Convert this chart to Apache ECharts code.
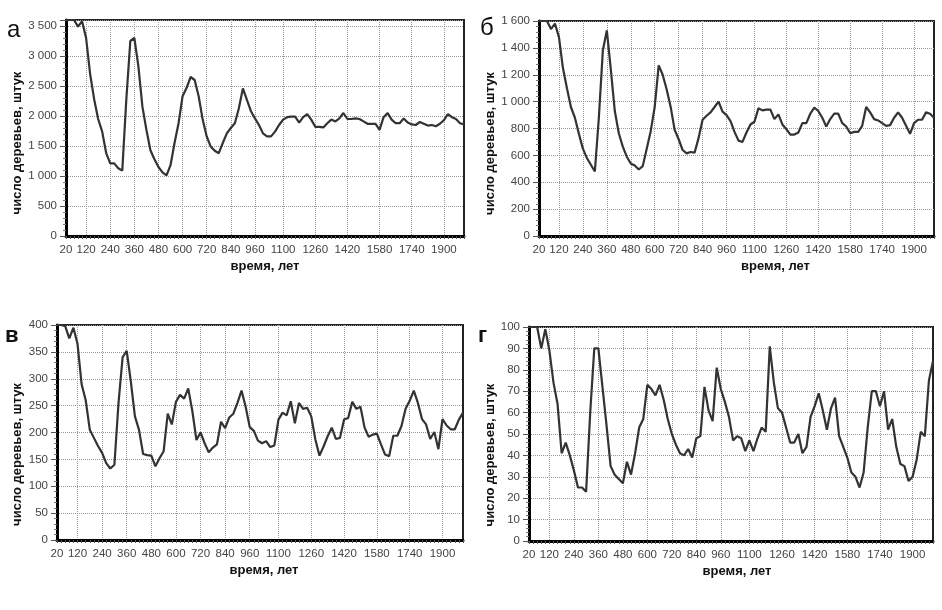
<!DOCTYPE html>
<html><head><meta charset="utf-8">
<script src="https://cdn.jsdelivr.net/npm/echarts@6/dist/echarts.min.js"></script>
<style>html,body{margin:0;padding:0;background:#fff}#c{width:942px;height:610px}</style>
</head><body><div id="c"></div>
<script>
// time, years (category axis)
const years = [20,40,60,80,100,120,140,160,180,200,220,240,260,280,300,320,340,360,380,400,
  420,440,460,480,500,520,540,560,580,600,620,640,660,680,700,720,740,760,780,800,
  820,840,860,880,900,920,940,960,980,1000,1020,1040,1060,1080,1100,1120,1140,1160,1180,1200,
  1220,1240,1260,1280,1300,1320,1340,1360,1380,1400,1420,1440,1460,1480,1500,1520,1540,1560,1580,1600,
  1620,1640,1660,1680,1700,1720,1740,1760,1780,1800,1820,1840,1860,1880,1900,1920,1940,1960,1980,2000];
// years that carry a tick label / grid line
const labelYears = [20,120,240,360,480,600,720,840,960,1100,1260,1420,1580,1740,1900];

// panel а
const treesA = [3600,3600,3600,3490,3580,3300,2700,2280,1950,1740,1380,1210,1210,1130,1090,2270,3250,3300,2830,2160,
  1770,1430,1280,1150,1060,1010,1180,1550,1880,2330,2470,2650,2600,2330,1940,1660,1490,1420,1380,1550,
  1710,1800,1880,2130,2460,2270,2080,1960,1850,1710,1660,1660,1740,1850,1940,1980,1990,1990,1890,1980,
  2030,1940,1820,1820,1810,1880,1940,1910,1960,2050,1950,1950,1960,1950,1910,1870,1870,1870,1770,1980,
  2050,1940,1880,1880,1960,1890,1860,1850,1900,1870,1840,1850,1830,1870,1930,2030,1980,1950,1880,1860];
// panel б
const treesB = [1600,1600,1600,1540,1580,1480,1250,1100,960,880,760,650,580,530,480,880,1380,1530,1240,930,
  765,665,590,540,525,495,520,650,780,960,1270,1200,1090,960,790,720,640,615,625,620,
  730,865,895,920,960,1000,925,900,855,775,710,700,770,830,850,950,935,940,940,870,
  905,830,795,755,755,770,840,840,910,955,930,880,815,870,910,910,840,815,765,775,
  775,820,960,920,870,860,840,820,825,880,920,880,820,760,840,865,865,920,910,880];
// panel в
const treesC = [400,400,398,375,395,365,290,260,205,190,175,162,143,133,140,255,340,352,295,230,
  205,160,158,157,137,152,165,235,215,257,270,263,282,240,186,200,180,163,172,178,
  220,208,228,235,255,278,248,210,203,185,180,184,173,176,224,237,232,258,217,255,
  244,246,230,187,157,174,193,209,188,190,224,227,257,244,248,209,192,196,198,178,
  159,156,194,194,212,244,259,278,255,225,215,188,201,169,225,213,206,206,224,237];
// panel г
const treesD = [100,100,100,90,99,89,74,64,41,46,40,33,25,25,23,60,90,90,72,54,
  35,31,29,27,37,31,41,53,57,73,71,68,73,66,57,50,45,41,40,43,
  39,48,49,72,61,56,81,71,65,58,47,49,48,42,47,42,48,53,51,91,
  74,62,60,53,46,46,50,41,44,58,63,69,61,52,62,67,49,44,39,32,
  30,25,32,53,70,70,63,70,52,57,44,36,35,28,30,38,51,49,75,84];

const panelLetters = ['а','б','в','г'];
const panelData = [treesA, treesB, treesC, treesD];
const yMax = [3600, 1600, 400, 100];
const yStep = [500, 200, 50, 10];

const layout = [
  {left:66, top:20, width:398, height:216, yGap:42, yPad:30, xPad:0, lx:7, ly:18, lf:'normal 24px'},
  {left:539, top:21, width:395, height:215, yGap:42, yPad:30, xPad:78, lx:480, ly:16, lf:'normal 24px'},
  {left:57, top:325, width:406, height:215, yGap:33, yPad:44, xPad:8, lx:5, ly:325, lf:'bold 22px'},
  {left:529, top:327, width:404, height:214, yGap:30, yPad:42, xPad:12, lx:478, ly:325, lf:'bold 22px'}
];

const labelSet = new Set(labelYears.map(String));
const fmt = v => String(v).replace(/\B(?=(\d{3})+(?!\d))/g, ' ');
const FONT = 'Liberation Sans, Arial, sans-serif';

const grids = [], xAxes = [], yAxes = [], series = [], graphics = [];
layout.forEach((L, k) => {
  grids.push({left:L.left, top:L.top, width:L.width, height:L.height, show:true,
    backgroundColor:'#fff', borderColor:'#222', borderWidth:2, containLabel:false});
  xAxes.push({type:'category', gridIndex:k, data:years, boundaryGap:false,
    axisLine:{lineStyle:{color:'#000', width:3}},
    axisTick:{interval:0, length:3, lineStyle:{color:'#555', width:1}},
    axisLabel:{interval:(i, v) => labelSet.has(String(v)), color:'#444', fontSize:11.5, fontFamily:FONT, margin:8},
    splitLine:{show:true, interval:(i, v) => labelSet.has(String(v)) && i > 0, lineStyle:{type:'dotted', color:'#999', width:1}},
    name:'время, лет', nameLocation:'middle', nameGap:24,
    nameTextStyle:{fontWeight:'bold', fontSize:13, color:'#111', fontFamily:FONT, padding:[0,0,0,L.xPad]}});
  const step = yStep[k];
  yAxes.push({type:'value', gridIndex:k, min:0, max:yMax[k], interval:step,
    axisLine:{show:true, lineStyle:{color:'#000', width:3}},
    axisTick:{show:true, length:6, lineStyle:{color:'#555'}},
    minorTick:{show:true, splitNumber:5, length:3, lineStyle:{color:'#777'}},
    axisLabel:{formatter: v => (v % step === 0 ? fmt(v) : ''), color:'#444', fontSize:11.5, fontFamily:FONT, margin:9},
    splitLine:{show:true, lineStyle:{type:'dotted', color:'#999', width:1}},
    name:'число деревьев, штук', nameLocation:'middle', nameGap:L.yGap,
    nameTextStyle:{fontWeight:'bold', fontSize:13, color:'#111', fontFamily:FONT, padding:[0,L.yPad,0,0]}});
  series.push({type:'line', xAxisIndex:k, yAxisIndex:k, data:panelData[k], symbol:'none',
    lineStyle:{color:'#333', width:2.2}, animation:false, z:3});
  graphics.push({type:'text', left:L.lx, top:L.ly,
    style:{text:panelLetters[k], font:L.lf + ' ' + FONT, fill:'#111'}});
});

const chart = echarts.init(document.getElementById('c'));
chart.setOption({backgroundColor:'#fff', animation:false, grid:grids, xAxis:xAxes, yAxis:yAxes, series, graphic:graphics});
</script></body></html>
